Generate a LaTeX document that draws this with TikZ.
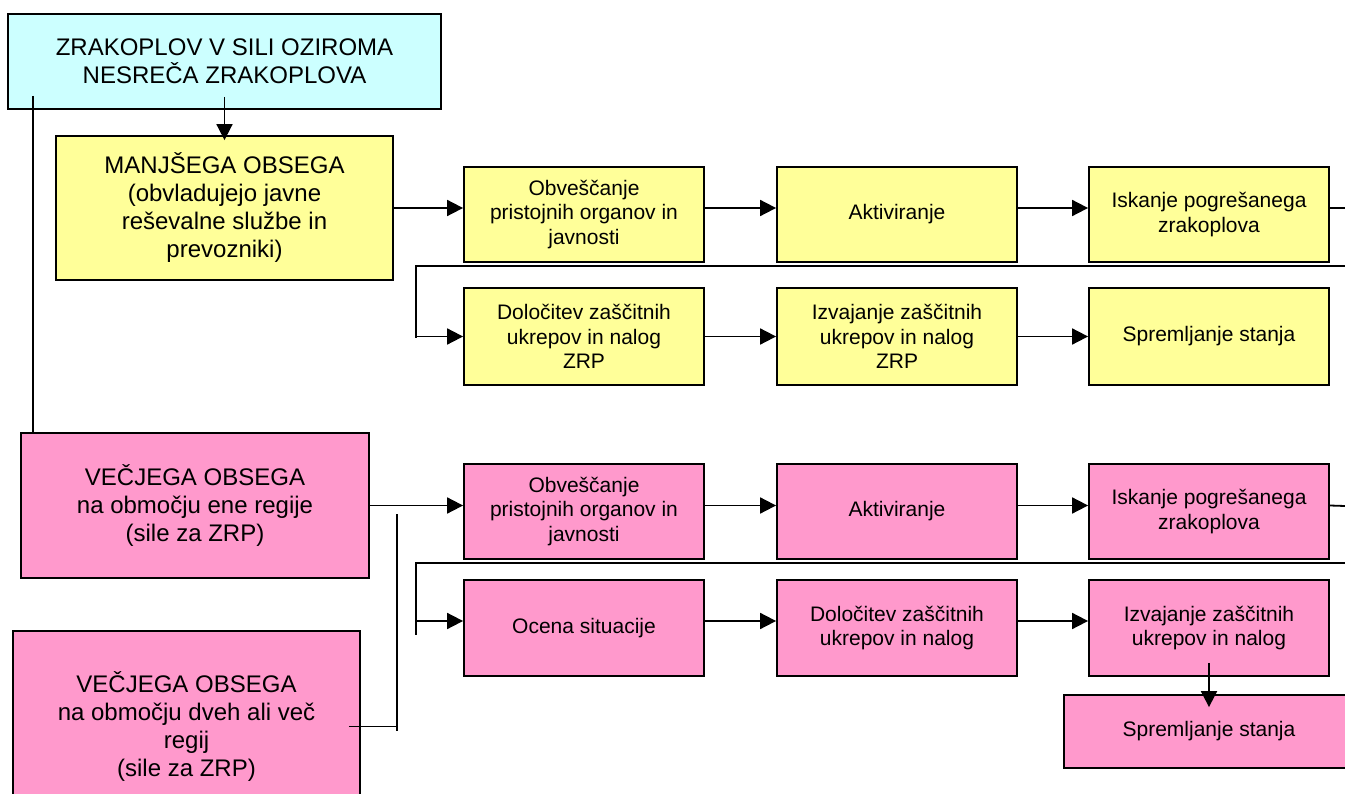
\documentclass[tikz,border=0pt]{standalone}
\usepackage{fontspec}
\setmainfont{Liberation Sans}
\usetikzlibrary{arrows.meta}
\definecolor{cyanbox}{HTML}{CCFFFF}
\definecolor{yellowbox}{HTML}{FFFF99}
\definecolor{pinkbox}{HTML}{FF99CC}
\begin{document}
\begin{tikzpicture}[x=1pt,y=-1pt,
  box/.style={draw=black, line width=1.8pt, inner sep=0pt, align=center},
  bigbox/.style={box, font=\fontsize{24}{28}\selectfont},
  smallbox/.style={box, minimum width=240pt, font=\fontsize{21}{24.5}\selectfont},
  conn/.style={line width=1.8pt},
  arr/.style={conn, -{Triangle[length=16pt,width=16pt]}},
]
\useasboundingbox (0,0) rectangle (1345,794);
\clip (0,0) rectangle (1345,794);

% nodes
\node[bigbox, fill=cyanbox, minimum width=433pt, minimum height=95pt] (top) at (224.5,61.5) {ZRAKOPLOV V SILI OZIROMA\\NESREČA ZRAKOPLOVA};
\node[bigbox, fill=yellowbox, minimum width=337pt, minimum height=144pt] (m1) at (224.5,208) {MANJŠEGA OBSEGA\\(obvladujejo javne\\reševalne službe in\\prevozniki)};

\node[smallbox, fill=yellowbox, minimum height=95pt] (y11) at (584,214.5) {Obveščanje\\pristojnih organov in\\javnosti};
\node[smallbox, fill=yellowbox, minimum height=95pt] (y12) at (897,214.5) {Aktiviranje};
\node[smallbox, fill=yellowbox, minimum height=95pt] (y13) at (1209,214.5) {Iskanje pogrešanega\\zrakoplova};
\node[smallbox, fill=yellowbox, minimum height=97pt] (y21) at (584,336.5) {Določitev zaščitnih\\ukrepov in nalog\\ZRP};
\node[smallbox, fill=yellowbox, minimum height=97pt] (y22) at (897,336.5) {Izvajanje zaščitnih\\ukrepov in nalog\\ZRP};
\node[smallbox, fill=yellowbox, minimum height=97pt] (y23) at (1209,336.5) {Spremljanje stanja};

\node[bigbox, fill=pinkbox, minimum width=348pt, minimum height=145pt] (v1) at (195,505.5) {VEČJEGA OBSEGA\\na območju ene regije\\(sile za ZRP)};
\node[bigbox, fill=pinkbox, minimum width=347pt, minimum height=191pt] (v2) at (186.5,726.5) {VEČJEGA OBSEGA\\na območju dveh ali več\\regij\\(sile za ZRP)};

\node[smallbox, fill=pinkbox, minimum height=95pt] (p11) at (584,511.5) {Obveščanje\\pristojnih organov in\\javnosti};
\node[smallbox, fill=pinkbox, minimum height=95pt] (p12) at (897,511.5) {Aktiviranje};
\node[smallbox, fill=pinkbox, minimum height=95pt] (p13) at (1209,511.5) {Iskanje pogrešanega\\zrakoplova};
\node[smallbox, fill=pinkbox, minimum height=96pt] (p21) at (584,628) {Ocena situacije};
\node[smallbox, fill=pinkbox, minimum height=96pt] (p22) at (897,628) {Določitev zaščitnih\\ukrepov in nalog};
\node[smallbox, fill=pinkbox, minimum height=96pt] (p23) at (1209,628) {Izvajanje zaščitnih\\ukrepov in nalog};
\node[smallbox, fill=pinkbox, minimum width=290pt, minimum height=73pt] (p3) at (1209,731.5) {Spremljanje stanja};

% free-end coordinates
\coordinate (ls) at (33,96);
\coordinate (e1) at (1345,208);
\coordinate (l1r) at (1345,266);
\coordinate (l1l) at (416,266);
\coordinate (l1b) at (416,338);
\coordinate (e2) at (1345,506);
\coordinate (l2r) at (1345,563);
\coordinate (l2l) at (416,563);
\coordinate (l2b) at (416,635);
\coordinate (l2a) at (416,621);
\coordinate (bt) at (397,514);
\coordinate (bb) at (397,731);

% connectors
\draw[arr] ([yshift=13pt]top.south) -- ([yshift=-5pt]m1.north);
\draw[conn] (ls) -- (ls |- v1.north);

\draw[arr] (m1.east) -- (m1.east -| y11.west);
\draw[arr] ([yshift=6.5pt]y11.east) -- ([yshift=6.5pt]y12.west);
\draw[arr] ([yshift=6.5pt]y12.east) -- ([yshift=6.5pt]y13.west);
\draw[conn] ([yshift=6.5pt]y13.east) -- (e1);
\draw[conn] (l1r) -- (l1l) -- (l1b);
\draw[arr] (l1l |- y21.west) -- (y21.west);
\draw[arr] (y21.east) -- (y22.west);
\draw[arr] (y22.east) -- (y23.west);

\draw[arr] (v1.east) -- (v1.east -| p11.west);
\draw[conn] (bt) -- (bb);
\draw[conn] ([xshift=-12pt]v2.east) -- (v2.east -| bt);
\draw[arr] ([yshift=6pt]p11.east) -- ([yshift=6pt]p12.west);
\draw[arr] ([yshift=6pt]p12.east) -- ([yshift=6pt]p13.west);
\draw[conn] ([yshift=6pt]p13.east) -- (e2);
\draw[conn] (l2r) -- (l2l) -- (l2b);
\draw[arr] (l2a) -- ([yshift=7pt]p21.west);
\draw[arr] ([yshift=7pt]p21.east) -- ([yshift=7pt]p22.west);
\draw[arr] ([yshift=7pt]p22.east) -- ([yshift=7pt]p23.west);
\draw[arr] ([yshift=14pt]p23.south) -- ([yshift=-13pt]p3.north);
\end{tikzpicture}
\end{document}
